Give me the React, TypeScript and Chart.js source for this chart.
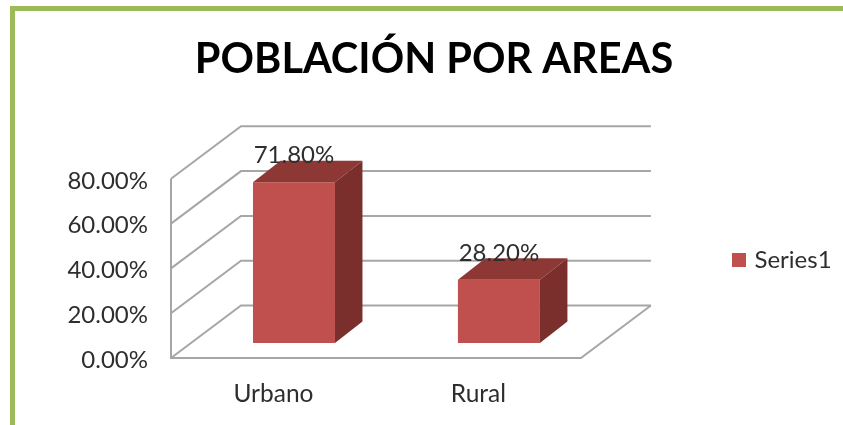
import React, { useEffect, useRef } from "react";
import { Chart, registerables } from "chart.js";

Chart.register(...registerables);

const categories = ["Urbano", "Rural"];
const seriesName = "Series1";
const seriesValues = [71.8, 28.2];
const chartTitle = "POBLACIÓN POR AREAS";

const FONT = "Lato";
const TEXT = "#2E2E2E";
const FRONT = "#C0504D";
const TOP = "#8E3836";
const SIDE = "#7B2F2D";
const GRID = "#A6A6A6";
const GREEN = "#9BBB59";

const fmt = (v: number) => v.toFixed(2) + "%";

// depth of the 3D floor, and of bars within it
const FLOOR_DX = 70;
const FLOOR_DY = 52.5;
const BAR_SHIFT_X = 20.5;
const BAR_SHIFT_Y = 15;
const BAR_DX = 27.5;
const BAR_DY = 21.5;

const frame = {
  id: "frame",
  beforeDraw(chart: any) {
    const { ctx, width, height } = chart;
    ctx.save();
    ctx.fillStyle = GREEN;
    ctx.fillRect(10, 6, width - 10, 5);
    ctx.fillRect(10, 6, 5, height - 6);
    ctx.restore();
  },
  afterLayout(chart: any) {
    const l = chart.legend;
    const w = l.right - l.left;
    l.left = 725.5;
    l.right = 725.5 + w;
    l.top = 160;
    l.bottom = 360;
    const t = chart.titleBlock;
    t.left = 26;
    t.right = 842;
  },
};

const box3d = {
  id: "box3d",
  beforeDatasetsDraw(chart: any) {
    const { ctx, chartArea, scales } = chart;
    const { left, right, bottom } = chartArea;
    ctx.save();
    ctx.strokeStyle = GRID;
    ctx.lineWidth = 2;
    ctx.lineJoin = "miter";
    for (const tick of scales.y.ticks) {
      const y = scales.y.getPixelForValue(tick.value);
      ctx.beginPath();
      ctx.moveTo(left, y);
      ctx.lineTo(left + FLOOR_DX, y - FLOOR_DY);
      ctx.lineTo(right + FLOOR_DX, y - FLOOR_DY);
      ctx.stroke();
    }
    ctx.beginPath();
    ctx.moveTo(left, chartArea.top);
    ctx.lineTo(left, bottom);
    ctx.lineTo(right, bottom);
    ctx.lineTo(right + FLOOR_DX, bottom - FLOOR_DY);
    ctx.stroke();
    ctx.restore();
    ctx.save();
    ctx.translate(BAR_SHIFT_X, -BAR_SHIFT_Y);
  },
  afterDatasetsDraw(chart: any) {
    const { ctx } = chart;
    for (const el of chart.getDatasetMeta(0).data) {
      const x0 = el.x - el.width / 2;
      const x1 = el.x + el.width / 2;
      const y0 = el.y;
      const y1 = el.base;
      ctx.fillStyle = TOP;
      ctx.beginPath();
      ctx.moveTo(x0, y0);
      ctx.lineTo(x0 + BAR_DX, y0 - BAR_DY);
      ctx.lineTo(x1 + BAR_DX, y0 - BAR_DY);
      ctx.lineTo(x1, y0);
      ctx.closePath();
      ctx.fill();
      ctx.fillStyle = SIDE;
      ctx.beginPath();
      ctx.moveTo(x1, y0);
      ctx.lineTo(x1 + BAR_DX, y0 - BAR_DY);
      ctx.lineTo(x1 + BAR_DX, y1 - BAR_DY);
      ctx.lineTo(x1, y1);
      ctx.closePath();
      ctx.fill();
    }
    ctx.restore();
    ctx.save();
    ctx.fillStyle = TEXT;
    ctx.font = `24px ${FONT}`;
    ctx.textAlign = "center";
    ctx.textBaseline = "middle";
    chart.getDatasetMeta(0).data.forEach((el: any, i: number) => {
      ctx.fillText(fmt(seriesValues[i]), el.x + BAR_SHIFT_X, el.y - BAR_SHIFT_Y - 27);
    });
    ctx.restore();
  },
};

export default function App() {
  const ref = useRef<HTMLCanvasElement>(null);
  useEffect(() => {
    const chart = new Chart(ref.current as HTMLCanvasElement, {
      type: "bar",
      data: {
        labels: categories,
        datasets: [
          {
            label: seriesName,
            data: seriesValues,
            backgroundColor: FRONT,
            borderWidth: 0,
            categoryPercentage: 1,
            barPercentage: 0.4,
            clip: false,
          } as any,
        ],
      },
      options: {
        responsive: false,
        animation: false,
        layout: { padding: { left: 26, right: 146, top: 0, bottom: 0 } },
        scales: {
          x: {
            grid: { display: false },
            border: { display: false },
            ticks: {
              color: TEXT,
              font: { family: FONT, size: 24.5 },
              padding: 13,
              maxRotation: 0,
            },
            afterFit: (s: any) => {
              s.height = 67;
            },
          },
          y: {
            min: 0,
            max: 80,
            grid: { display: false },
            border: { display: false },
            ticks: {
              stepSize: 20,
              color: TEXT,
              font: { family: FONT, size: 24 },
              padding: 15,
              labelOffset: 2,
              callback: (v: any) => fmt(Number(v)),
            },
            afterFit: (s: any) => {
              s.width = 145;
            },
          },
        },
        plugins: {
          title: {
            display: true,
            text: chartTitle,
            color: "#000000",
            font: { family: FONT, size: 41.5, weight: "bold", lineHeight: 1.2 },
            padding: { top: 35, bottom: 94 },
          },
          legend: {
            position: "right",
            labels: {
              usePointStyle: true,
              pointStyle: "rect",
              boxWidth: 7,
              boxHeight: 14,
              color: TEXT,
              font: { family: FONT, size: 24 },
            },
          },
          tooltip: { enabled: false },
        },
      },
      plugins: [frame, box3d],
    } as any);
    return () => chart.destroy();
  }, []);
  return (
    <div style={{ position: "absolute", left: 0, top: 0 }}>
      <canvas ref={ref} width={843} height={425} style={{ display: "block" }} />
    </div>
  );
}
